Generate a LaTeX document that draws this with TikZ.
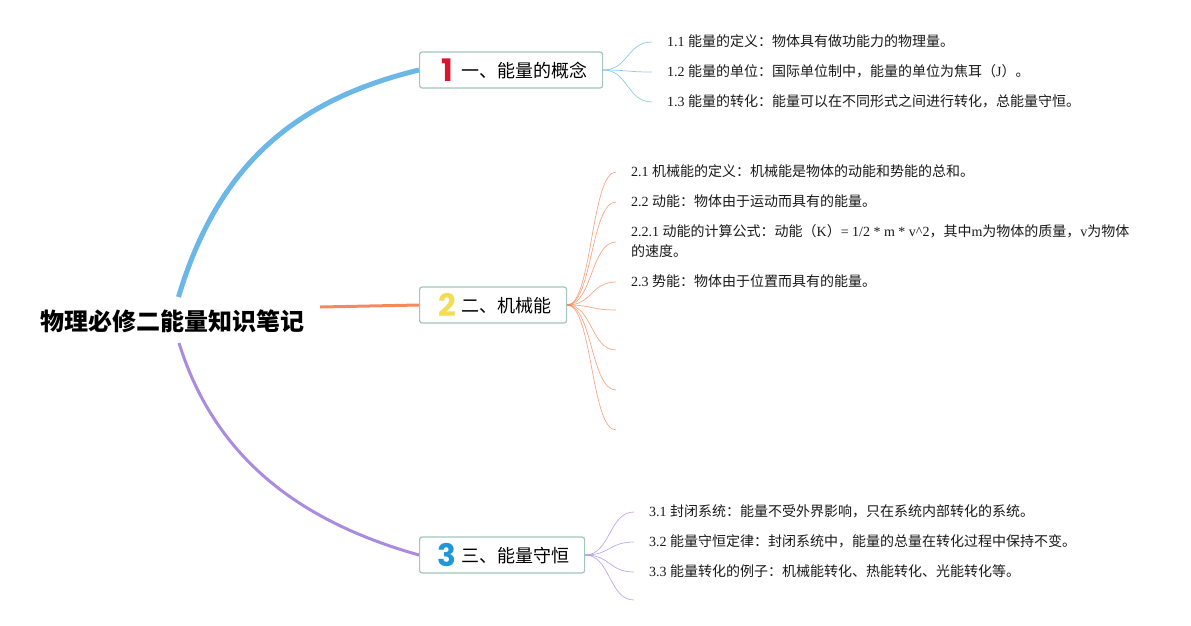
\documentclass[tikz,border=0pt]{standalone}
\usepackage{fontspec}
\usepackage{xcolor}
\setmainfont{Liberation Serif}
\newfontfamily\cjk{Noto Sans CJK SC}
\newfontfamily\numfont{Poppins}
\usetikzlibrary{arrows.meta, positioning, calc}

\definecolor{bluebranch}{HTML}{6BB7E8}
\definecolor{orangebranch}{HTML}{F4895F}
\definecolor{purplebranch}{HTML}{A98BE0}
\definecolor{boxline}{HTML}{A4C5BD}
\definecolor{numred}{HTML}{D9172C}
\definecolor{numyellow}{HTML}{F5DC55}
\definecolor{numblue}{HTML}{1F97D8}

\newcommand{\topiclabel}[3]{\makebox[25pt][c]{\raisebox{-11pt}[0pt][0pt]{\fontsize{31}{31}\numfont\bfseries\color{#1}#2}}\hspace{2pt}\raisebox{-7.8pt}[0pt][0pt]{#3}}

\tikzset{
  topicbox/.style={draw=boxline, line width=1.2pt, rounded corners=2.5pt, fill=white, anchor=west,
    minimum height=36pt, inner xsep=15pt, inner ysep=0pt, font=\fontsize{18}{20}\selectfont\cjk},
  leaf/.style={anchor=west, inner xsep=15pt, inner ysep=1pt, align=left, text=black!90,
    font=\fontsize{14}{20}\selectfont},
  twig/.style={line width=0.7pt, opacity=0.75}
}

\begin{document}
\begin{tikzpicture}[x=1pt, y=-1pt]
  \useasboundingbox (0,0) rectangle (1191,625);

  \node[inner sep=0pt, font=\fontsize{24}{26}\selectfont\cjk\bfseries] (root) at (172.5,321) {物理必修二能量知识笔记};
  \coordinate (rootA) at (178.5,297);
  \coordinate (rootB) at (320,307);
  \coordinate (rootC) at (179,343);

  \node[topicbox] (box1) at (419,70) {\topiclabel{numred}{1}{一、能量的概念}};
  \node[topicbox] (box2) at (419,305) {\topiclabel{numyellow}{2}{二、机械能}};
  \node[topicbox] (box3) at (419,555) {\topiclabel{numblue}{3}{三、能量守恒}};

  % main branches
  \draw[bluebranch, line width=5pt] (rootA) .. controls (218,165) and (295,100) .. (box1.west);
  \draw[orangebranch, line width=3pt] (rootB) -- (box2.west);
  \draw[purplebranch, line width=3pt] (rootC) .. controls (217,465) and (309,524) .. (box3.west);

  % first topic
  \node[leaf] (a1) at (652,41) {1.1 {\cjk 能量的定义：物体具有做功能力的物理量。}};
  \node[leaf] (a2) at (652,71) {1.2 {\cjk 能量的单位：国际单位制中，能量的单位为焦耳（}J{\cjk ）。}};
  \node[leaf] (a3) at (652,101) {1.3 {\cjk 能量的转化：能量可以在不同形式之间进行转化，总能量守恒。}};
  \foreach \n in {a1,a2,a3}
    \draw[twig, bluebranch] (box1.east) .. controls +(25,0) and +(-25,0) .. ([yshift=-1pt]\n.west);

  % second topic
  \node[leaf] (b1) at (616,171) {2.1 {\cjk 机械能的定义：机械能是物体的动能和势能的总和。}};
  \node[leaf] (b2) at (616,201) {2.2 {\cjk 动能：物体由于运动而具有的能量。}};
  \node[leaf] (b3) at (616,241) {2.2.1 {\cjk 动能的计算公式：动能（}K{\cjk ）}= 1/2 * m * v\textasciicircum 2{\cjk ，其中}m{\cjk 为物体的质量，}v{\cjk 为物体}\\{\cjk 的速度。}};
  \node[leaf] (b4) at (616,281) {2.3 {\cjk 势能：物体由于位置而具有的能量。}};
  \coordinate (b5) at (616,310);
  \coordinate (b6) at (616,350);
  \coordinate (b7) at (616,390);
  \coordinate (b8) at (616,430);
  \foreach \n in {b1,b2,b3,b4}
    \draw[twig, orangebranch] (box2.east) .. controls +(25,0) and +(-25,0) .. ([yshift=-1pt]\n.west);
  \foreach \n in {b5,b6,b7,b8}
    \draw[twig, orangebranch] (box2.east) .. controls +(25,0) and +(-25,0) .. (\n);

  % third topic
  \node[leaf] (c1) at (634,511) {3.1 {\cjk 封闭系统：能量不受外界影响，只在系统内部转化的系统。}};
  \node[leaf] (c2) at (634,541) {3.2 {\cjk 能量守恒定律：封闭系统中，能量的总量在转化过程中保持不变。}};
  \node[leaf] (c3) at (634,571) {3.3 {\cjk 能量转化的例子：机械能转化、热能转化、光能转化等。}};
  \coordinate (c4) at (634,600);
  \foreach \n in {c1,c2,c3}
    \draw[twig, purplebranch] (box3.east) .. controls +(25,0) and +(-25,0) .. ([yshift=-1pt]\n.west);
  \draw[twig, purplebranch] (box3.east) .. controls +(25,0) and +(-25,0) .. (c4);
\end{tikzpicture}
\end{document}
